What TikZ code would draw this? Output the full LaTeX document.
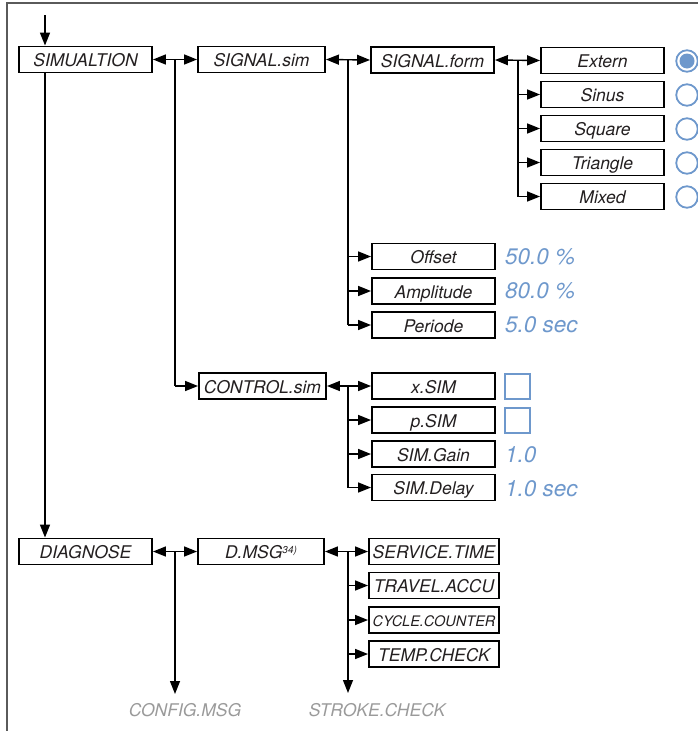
\documentclass[tikz,border=0pt]{standalone}
\usepackage{fontspec}
\setmainfont{TeX Gyre Heros}
\usetikzlibrary{arrows.meta}
\definecolor{valblue}{HTML}{6E98CC}
\definecolor{txt}{HTML}{231F20}
\definecolor{ghost}{HTML}{9A9A9A}
\definecolor{frame}{HTML}{5A5A5A}
\tikzset{
  box/.style={draw=black, line width=1.9pt, text=txt, inner sep=0pt, minimum height=26pt,
    text height=14.6pt, text depth=0pt,
    font=\fontsize{17.5}{17.5}\selectfont\itshape},
  conn/.style={line width=1.4pt, -{Triangle[length=13pt,width=10pt]}},
  dconn/.style={line width=1.4pt, {Triangle[length=13pt,width=10pt]}-{Triangle[length=13pt,width=10pt]}},
  plain/.style={line width=1.4pt},
  val/.style={anchor=west, inner sep=0pt, text=valblue, font=\fontsize{22.5}{22.5}\selectfont\itshape},
  ghosttext/.style={inner sep=0pt, text=ghost, font=\fontsize{17.5}{17.5}\selectfont\itshape},
  radio/.style={draw=valblue, line width=1.8pt},
  chk/.style={draw=valblue, line width=1.8pt, minimum width=25pt, minimum height=25pt, inner sep=0pt}
}
\begin{document}
\begin{tikzpicture}[x=1pt,y=-1pt]
\useasboundingbox (0,0) rectangle (698,731);
% frame
\draw[frame, line width=1.5pt] (7,740) -- (7,3) -- (710,3);

% main boxes
\node[box, minimum width=133pt] (sim) at (85.5,59.5) {SIMUALTION};
\node[box, minimum width=127pt] (sig) at (261.5,59.5) {SIGNAL.sim};
\node[box, minimum width=123pt] (form) at (432.5,60) {SIGNAL.form};
\node[box, minimum width=123pt] (ext) at (602.5,60.5) {Extern};
\node[box, minimum width=123pt] (sin) at (602.5,94.5) {Sinus};
\node[box, minimum width=123pt] (sq) at (602.5,128.5) {Square};
\node[box, minimum width=123pt] (tri) at (602.5,162.5) {Triangle};
\node[box, minimum width=123pt] (mix) at (602.5,196.5) {Mixed};

\node[box, minimum width=123pt] (off) at (433.5,256.5) {Offset};
\node[box, minimum width=123pt] (amp) at (433.5,291) {Amplitude};
\node[box, minimum width=123pt] (per) at (433.5,325) {Periode};

\node[box, minimum width=127pt] (ctl) at (262.5,386) {CONTROL.sim};
\node[box, minimum width=123pt] (xs) at (433.5,386) {x.SIM};
\node[box, minimum width=123pt] (ps) at (433.5,420) {p.SIM};
\node[box, minimum width=123pt] (gain) at (433.5,454) {SIM.Gain};
\node[box, minimum width=123pt] (delay) at (433.5,487.5) {SIM.Delay};

\node[box, minimum width=133pt] (diag) at (85.5,551.5) {DIAGNOSE};
\node[box, minimum width=126pt] (dmsg) at (261,551.5) {D.MSG\raisebox{5pt}{\fontsize{10}{10}\selectfont 34)}};
\node[box, minimum width=130pt] (serv) at (434,551.5) {SERVICE.TIME};
\node[box, minimum width=130pt] (trav) at (434,585.5) {TRAVEL.ACCU};
\node[box, minimum width=130pt, text height=12.4pt, font=\fontsize{14.5}{14.5}\selectfont\itshape] (cyc) at (434,620) {CYCLE.COUNTER};
\node[box, minimum width=130pt] (temp) at (434,654) {TEMP.CHECK};

\node[ghosttext] (cfg) at (185,710) {CONFIG.MSG};
\node[ghosttext] (stk) at (377,710) {STROKE.CHECK};

% radio buttons
\node[radio, circle, minimum size=21.5pt, inner sep=0pt] (r1) at (687,61) {};
\fill[valblue] (r1.center) circle (7.5pt);
\node[radio, circle, minimum size=21.5pt, inner sep=0pt] (r2) at (687,95) {};
\node[radio, circle, minimum size=21.5pt, inner sep=0pt] (r3) at (687,129) {};
\node[radio, circle, minimum size=21.5pt, inner sep=0pt] (r4) at (687,163) {};
\node[radio, circle, minimum size=21.5pt, inner sep=0pt] (r5) at (687,197) {};

% values
\node[val] (v1) at (505,256.5) {50.0 \%};
\node[val] (v2) at (505,290.5) {80.0 \%};
\node[val] (v3) at (505,324.5) {5.0 sec};
\node[chk] (c1) at (517.5,386.5) {};
\node[chk] (c2) at (517.5,420.5) {};
\node[val] (v4) at (505,455) {1.0};
\node[val] (v5) at (505,489) {1.0 sec};

% connectors
\coordinate (entry) at (45,15);
\draw[conn] (entry) -- (entry |- sim.north);
\draw[conn] (sim.south -| entry) -- (diag.north -| entry);

\coordinate (b1) at (175,59.5);
\draw[dconn] (sim.east) -- (sig.west);
\draw[plain] (b1) -- (b1 |- ctl.west);
\draw[conn] (b1 |- ctl.west) -- (ctl.west);

\coordinate (b2) at (348,59.5);
\draw[dconn] (sig.east) -- (form.west);
\draw[plain] (b2) -- (b2 |- per.west);
\draw[conn] (b2 |- off.west) -- (off.west);
\draw[conn] (b2 |- amp.west) -- (amp.west);
\draw[conn] (b2 |- per.west) -- (per.west);

\coordinate (b3) at (518,60);
\draw[dconn] (form.east) -- (ext.west);
\draw[plain] (b3) -- (b3 |- mix.west);
\draw[conn] (b3 |- sin.west) -- (sin.west);
\draw[conn] (b3 |- sq.west) -- (sq.west);
\draw[conn] (b3 |- tri.west) -- (tri.west);
\draw[conn] (b3 |- mix.west) -- (mix.west);

\coordinate (b4) at (348,386);
\draw[dconn] (ctl.east) -- (xs.west);
\draw[plain] (b4) -- (b4 |- delay.west);
\draw[conn] (b4 |- ps.west) -- (ps.west);
\draw[conn] (b4 |- gain.west) -- (gain.west);
\draw[conn] (b4 |- delay.west) -- (delay.west);

\coordinate (b5) at (175,551.5);
\coordinate (e5) at (175,694);
\draw[dconn] (diag.east) -- (dmsg.west);
\draw[conn] (b5) -- (e5);

\coordinate (b6) at (348,551.5);
\coordinate (e6) at (348,693);
\draw[dconn] (dmsg.east) -- (serv.west);
\draw[conn] (b6) -- (e6);
\draw[conn] (b6 |- trav.west) -- (trav.west);
\draw[conn] (b6 |- cyc.west) -- (cyc.west);
\draw[conn] (b6 |- temp.west) -- (temp.west);
\end{tikzpicture}
\end{document}
